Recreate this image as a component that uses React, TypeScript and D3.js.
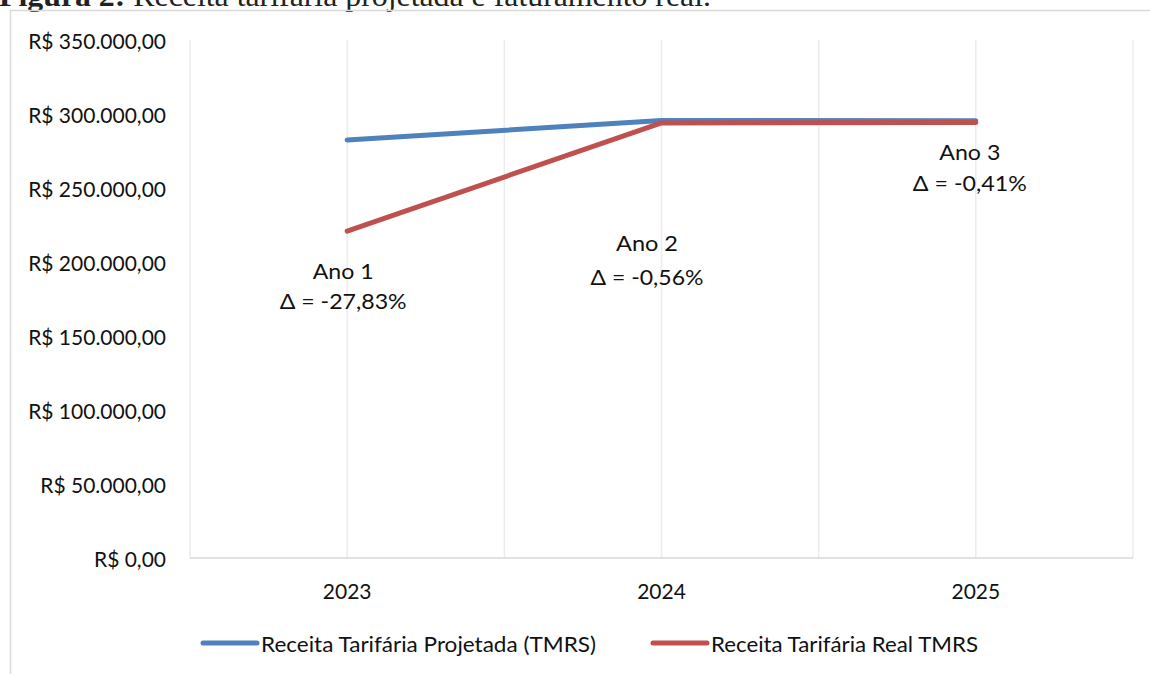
import React from "react";
import * as d3 from "d3";

const years = ["2023", "2024", "2025"];
const projetada = [282400, 295650, 295400];
const real = [220900, 294000, 294200];
const seriesNames = ["Receita Tarifária Projetada (TMRS)", "Receita Tarifária Real TMRS"];
const seriesColors = ["#4F81BD", "#C0504D"];
const yTicks = [0, 50000, 100000, 150000, 200000, 250000, 300000, 350000];
const annoTitles = ["Ano 1", "Ano 2", "Ano 3"];
const annoDeltas = ["Δ = -27,83%", "Δ = -0,56%", "Δ = -0,41%"];
// offsets of the text boxes relative to the real-series point
const annoDx = [-4, -14.5, -6];
const annoDy = [39, 120, 29];
const annoGap = [30, 34, 31];
// rendered widths (Calibri-like metrics)
const annoTitleW = [61, 62, 61];
const annoDeltaW = [127, 113, 114];
const legendW = [335, 267];
const legendX = [203, 653];

const W = 1150;
const H = 674;
const FONT = "Lato, 'Open Sans', sans-serif";
const FS = 21;

const fmt = (v: number) => {
  const s = d3.format(",.2f")(v);
  return "R$ " + s.replace(/,/g, "#").replace(/\./g, ",").replace(/#/g, ".");
};

export default function App() {
  const left = 190;
  const right = 1133;
  const top = 40;
  const bottom = 558;

  const x = d3.scaleBand<string>().domain(years).range([left, right]).paddingInner(0).paddingOuter(0);
  const bw = x.bandwidth();
  const cx = (d: string) => (x(d) as number) + bw / 2;
  const y = d3.scaleLinear().domain([0, 350000]).range([bottom, top]);

  const line = d3
    .line<number>()
    .x((_, i) => cx(years[i]))
    .y((v) => y(v));

  const gridXs: number[] = [];
  years.forEach((yr) => {
    gridXs.push(x(yr) as number);
    gridXs.push(cx(yr));
  });
  gridXs.push(right);

  const series = [projetada, real];

  return (
    <svg width={W} height={H} style={{ position: "absolute", left: 0, top: 0, background: "#fff" }}>
      <rect x={0} y={0} width={W} height={H} fill="#fff" />
      {/* caption, clipped at top */}
      <text
        x={-1}
        y={5.5}
        fontFamily="'Liberation Serif', 'Times New Roman', serif"
        fontSize={30}
        fill="#222"
        textLength={712}
        lengthAdjust="spacingAndGlyphs"
      >
        <tspan fontWeight="bold">Figura 2:</tspan>
        <tspan> Receita tarifária projetada e faturamento real.</tspan>
      </text>
      {/* chart frame */}
      <rect x={10.5} y={10.5} width={W + 20} height={H + 20} fill="none" stroke="#d9d9d9" strokeWidth={1.5} />

      {/* vertical gridlines */}
      {gridXs.map((gx, i) => (
        <line key={i} x1={gx} x2={gx} y1={top} y2={bottom} stroke="#ececec" strokeWidth={1.5} />
      ))}
      {/* x axis baseline */}
      <line x1={left} x2={right} y1={bottom} y2={bottom} stroke="#d9d9d9" strokeWidth={1.5} />

      {/* y tick labels */}
      {yTicks.map((t) => (
        <text
          key={t}
          x={166}
          y={y(t)}
          textAnchor="end"
          dominantBaseline="central"
          fontFamily={FONT}
          fontSize={FS}
          fill="#111"
        >
          {fmt(t)}
        </text>
      ))}

      {/* x tick labels */}
      {years.map((yr) => (
        <text
          key={yr}
          x={cx(yr)}
          y={590}
          textAnchor="middle"
          dominantBaseline="central"
          fontFamily={FONT}
          fontSize={FS}
          fill="#111"
        >
          {yr}
        </text>
      ))}

      {/* series lines */}
      {series.map((s, i) => (
        <path
          key={i}
          d={line(s) as string}
          fill="none"
          stroke={seriesColors[i]}
          strokeWidth={5}
          strokeLinecap="round"
          strokeLinejoin="round"
        />
      ))}

      {/* annotations */}
      {years.map((yr, i) => {
        const ax = cx(yr) + annoDx[i];
        const ay = y(real[i]) + annoDy[i];
        return (
          <g key={yr} fontFamily={FONT} fontSize={FS} fill="#111" textAnchor="middle">
            <text x={ax} y={ay} dominantBaseline="central" textLength={annoTitleW[i]} lengthAdjust="spacingAndGlyphs">
              {annoTitles[i]}
            </text>
            <text
              x={ax}
              y={ay + annoGap[i]}
              dominantBaseline="central"
              textLength={annoDeltaW[i]}
              lengthAdjust="spacingAndGlyphs"
            >
              {annoDeltas[i]}
            </text>
          </g>
        );
      })}

      {/* legend */}
      {seriesNames.map((name, i) => {
        const lx = legendX[i];
        return (
          <g key={name}>
            <line x1={lx} x2={lx + 54} y1={643} y2={643} stroke={seriesColors[i]} strokeWidth={5} strokeLinecap="round" />
            <text
              x={lx + 58}
              y={643}
              dominantBaseline="central"
              fontFamily={FONT}
              fontSize={FS}
              fill="#111"
              textLength={legendW[i]}
              lengthAdjust="spacingAndGlyphs"
            >
              {name}
            </text>
          </g>
        );
      })}
    </svg>
  );
}
